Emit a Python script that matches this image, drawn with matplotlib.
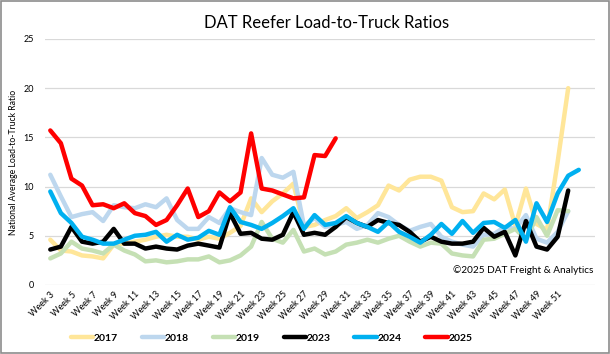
import matplotlib
matplotlib.use("Agg")
import matplotlib.pyplot as plt
from matplotlib.patches import Rectangle

plt.rcParams['font.family'] = ['Lato', 'DejaVu Sans']

weeks = [f"Week {w}" for w in range(3, 54)]

r2017 = [4.6, 3.5, 3.4, 3.0, 2.9, 2.7, 4.1, 4.2, 4.4, 4.6, 4.9,
         5.1, 4.9, 4.9, 4.6, 4.9, 4.7, 5.3, 6.0, 8.8, 7.4, 8.5, 9.3, 10.3,
         5.9, 6.1, 6.6, 7.0, 7.8, 6.8, 7.4, 8.1, 10.1, 9.6, 10.7,
         11.0, 11.0, 10.6, 7.9, 7.4, 7.5, 9.3, 8.7, 9.7, 6.0, 9.8, 6.2, 5.6, 12.5, 20.0]
r2018 = [11.2, 9.0, 6.9, 7.2, 7.4, 6.5, 8.1, 7.9, 7.8, 8.2, 7.9, 8.8,
         6.6, 5.7, 5.7, 6.9, 6.3, 7.8, 7.4, 7.1, 12.9, 11.2, 10.9, 11.5,
         6.0, 6.8, 5.9, 6.1, 6.4, 5.7, 6.1, 7.3, 6.9, 6.1, 5.5,
         5.9, 6.2, 4.9, 4.4, 4.1, 3.9, 5.1, 5.2, 5.9, 5.7, 7.1, 4.7, 4.3, 5.4, 7.5]
r2019 = [2.7, 3.2, 4.4, 3.7, 3.5, 3.2, 4.1, 3.5, 3.1, 2.4, 2.5,
         2.3, 2.4, 2.6, 2.6, 2.9, 2.3, 2.5, 3.0, 3.9, 6.4, 4.7, 4.3, 5.6,
         3.4, 3.7, 3.1, 3.4, 4.1, 4.3, 4.6, 4.3, 4.7, 5.0,
         4.4, 3.9, 4.3, 4.2, 3.2, 3.0, 2.9, 4.6, 4.7, 5.2, 5.7, 4.6, 6.9, 5.0, 7.6, 7.5]
r2023 = [3.6, 3.9, 5.9, 4.4, 4.2, 4.4, 5.7, 4.2, 4.2, 3.7, 3.9, 3.7, 3.6, 4.0, 4.2, 4.0, 3.8, 7.3,
         5.2, 5.3, 4.7, 4.6, 5.1, 7.4, 5.1, 5.3, 5.1, 5.9, 6.9, 6.3, 5.9, 6.6, 6.3,
         6.1, 5.4, 4.4, 4.9, 4.4, 4.2, 4.2, 4.4, 5.8, 4.9, 5.4, 3.0, 6.5, 3.9, 3.6, 4.9, 9.6]
r2024 = [9.5, 7.3, 6.3, 4.9, 4.6, 4.2, 4.2, 4.6, 5.0, 5.1, 5.4, 4.4, 5.1, 4.6, 4.8, 5.5, 5.1, 7.9,
         6.4, 6.1, 5.7, 6.3, 7.0, 7.8, 5.7, 7.1, 6.1, 6.3, 7.0, 6.3, 5.9, 5.4, 6.4,
         5.4, 4.9, 4.3, 5.1, 6.2, 5.2, 6.5, 5.3, 6.3, 6.4, 5.8, 6.6, 4.4, 8.3, 6.4, 9.3, 11.1, 11.7]
r2025 = [15.7, 14.4, 10.8, 10.1, 8.1, 8.2, 7.8, 8.3, 7.3, 7.0, 6.1, 6.6, 8.1, 9.8,
         6.9, 7.5, 9.4, 8.5, 9.4, 15.4, 9.8, 9.6, 9.2, 8.8, 8.9, 13.2, 13.1, 14.9]

series = [("2017", r2017, "#FFE699"), ("2018", r2018, "#BDD7EE"),
          ("2019", r2019, "#C5E0B4"), ("2023", r2023, "#000000"),
          ("2024", r2024, "#00B0F0"), ("2025", r2025, "#FF0000")]

fig = plt.figure(figsize=(6.1, 3.54), dpi=100)
ax = fig.add_axes([0.0738, 0.195, 0.901, 0.695])

for name, vals, col in series:
    ax.plot(range(len(vals)), vals, color=col, lw=3.2, label=name,
            solid_joinstyle='round', solid_capstyle='round')

ax.set_xlim(-0.5, 51.5)
ax.set_ylim(0, 25)
ax.set_yticks([0, 5, 10, 15, 20, 25])
ax.yaxis.grid(True, color="#D9D9D9", lw=0.9)
ax.set_axisbelow(True)
for s in ax.spines.values():
    s.set_visible(False)
ax.tick_params(axis='both', length=0, labelsize=6.5, colors="#000000")
ax.tick_params(axis='y', pad=8)
ax.set_xticks(range(0, len(weeks), 2)[:25])
ax.set_xticklabels(weeks[0:50:2], rotation=45, ha='right', rotation_mode='anchor')

ax.set_ylabel("National Average Load-to-Truck Ratio", fontsize=6.2, labelpad=4)
ax.text(0.997, 0.06, "\u00a92025 DAT Freight & Analytics", transform=ax.transAxes,
        ha='right', va='center', fontsize=7.2)

fig.text(0.535, 0.935, "DAT Reefer Load-to-Truck Ratios", ha='center', va='center', fontsize=12)

leg = fig.legend(loc='center', bbox_to_anchor=(0.445, 0.045), ncol=6, frameon=False,
                 fontsize=7.5, handlelength=2.2, columnspacing=2.3, handletextpad=0.0)
for t in leg.get_texts():
    t.set_fontweight('bold')

fig.add_artist(Rectangle((0.001, 0.002), 0.997, 0.995, transform=fig.transFigure,
                         fill=False, edgecolor="#8C8C8C", lw=1.2))

fig.savefig("out.png", dpi=100)
